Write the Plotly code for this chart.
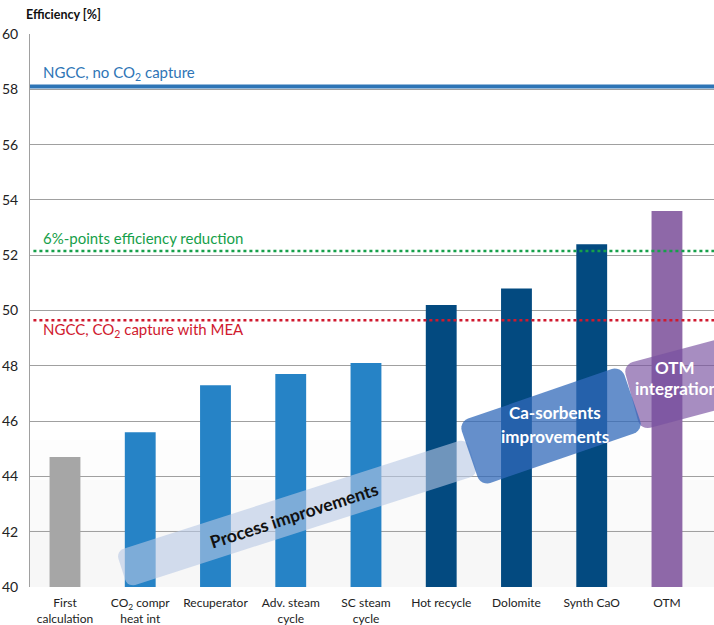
import math
import plotly.graph_objects as go

# ---------------- data ----------------
categories = ["First<br>calculation", "CO<sub>2</sub> compr<br>heat int", "Recuperator",
              "Adv. steam<br>cycle", "SC steam<br>cycle", "Hot recycle", "Dolomite",
              "Synth CaO", "OTM"]
efficiency = [44.7, 45.6, 47.3, 47.7, 48.1, 50.2, 50.8, 52.4, 53.6]
bar_colors = ["#A6A6A6", "#2683C6", "#2683C6", "#2683C6", "#2683C6",
              "#034A80", "#034A80", "#034A80", "#8E68A8"]
ref_values = [58.1, 52.15, 49.65]
ref_labels = ["NGCC, no CO<sub>2</sub> capture", "6%-points efficiency reduction",
              "NGCC, CO<sub>2</sub> capture with MEA"]
y_ticks = [40, 42, 44, 46, 48, 50, 52, 54, 56, 58, 60]

FONT = "Lato"
W, H = 714, 625
ML, MR, MT, MB = 30, 0, 34, 38
PW, PH = W - ML - MR, H - MT - MB

fig = go.Figure()
fig.add_trace(go.Bar(x=categories, y=efficiency, marker_color=bar_colors,
                     width=0.41, marker_line_width=0))

def px2paper(px, py):
    return (px - ML) / PW, (H - MB - py) / PH

def rrect_path(cx, cy, w, h, ang, r, n=6):
    th = math.radians(ang)
    c, s = math.cos(th), math.sin(th)
    pts = []
    corners = [(w/2 - r, h/2 - r, 0), (-w/2 + r, h/2 - r, 90),
               (-w/2 + r, -h/2 + r, 180), (w/2 - r, -h/2 + r, 270)]
    for (ox, oy, a0) in corners:
        for k in range(n + 1):
            a = math.radians(a0 + 90 * k / n)
            pts.append((ox + r * math.cos(a), oy + r * math.sin(a)))
    out = []
    for (x, y) in pts:
        X = x * c - y * s
        Y = x * s + y * c
        out.append(px2paper(cx + X, cy - Y))
    d = "M " + " L ".join(f"{a:.5f},{b:.5f}" for a, b in out) + " Z"
    return d

shapes = []
# subtle bottom background shading
for y0, y1, a in [(587, 530, 0.03), (530, 480, 0.018), (480, 440, 0.008)]:
    x0p, y0p = px2paper(30, y0)
    x1p, y1p = px2paper(714, y1)
    shapes.append(dict(type="rect", xref="paper", yref="paper", layer="below",
                       x0=x0p, x1=x1p, y0=y0p, y1=y1p,
                       fillcolor=f"rgba(0,0,0,{a})", line=dict(width=0)))
# reference lines
shapes.append(dict(type="line", xref="paper", yref="y", x0=0, x1=1, y0=ref_values[0], y1=ref_values[0],
                   line=dict(color="#2E75B6", width=4)))
shapes.append(dict(type="line", xref="paper", yref="y", x0=0.005, x1=1, y0=ref_values[1], y1=ref_values[1],
                   line=dict(color="#16A04A", width=2.5, dash="dot")))
shapes.append(dict(type="line", xref="paper", yref="y", x0=0.005, x1=1, y0=ref_values[2], y1=ref_values[2],
                   line=dict(color="#D0192E", width=2.5, dash="dot")))
# highlight boxes
shapes.append(dict(type="path", xref="paper", yref="paper", layer="above",
                   path=rrect_path(297, 513, 368, 38, 17.8, 8),
                   fillcolor="rgba(184,200,228,0.6)", line=dict(width=0)))
shapes.append(dict(type="path", xref="paper", yref="paper", layer="above",
                   path=rrect_path(697, 380, 135, 68, 15, 10),
                   fillcolor="rgba(120,80,160,0.65)", line=dict(width=0)))
shapes.append(dict(type="path", xref="paper", yref="paper", layer="above",
                   path=rrect_path(551, 426, 172, 68, 19, 10),
                   fillcolor="rgba(50,105,185,0.75)", line=dict(width=0)))

annotations = []
ref_colors = ["#2E75B6", "#16A04A", "#D0192E"]
ref_label_y = [73, 238, 330]
for lab, col, py in zip(ref_labels, ref_colors, ref_label_y):
    xp, yp = px2paper(41, py)
    annotations.append(dict(text=lab, x=xp, y=yp, xref="paper", yref="paper", xanchor="left",
                            yanchor="middle", showarrow=False, font=dict(family=FONT, size=15, color=col)))

def ann(text, px, py, size, color, angle=0):
    xp, yp = px2paper(px, py)
    annotations.append(dict(text=text, x=xp, y=yp, xref="paper", yref="paper", xanchor="center",
                            yanchor="middle", showarrow=False, textangle=angle,
                            font=dict(family=FONT, size=size, color=color)))

ann("<b>Process improvements</b>", 294, 515, 17.5, "#111111", -18)
ann("<b>Ca-sorbents</b>", 555, 412, 17, "white")
ann("<b>improvements</b>", 555, 436, 17, "white")
ann("<b>OTM</b>", 675, 367, 17, "white")
ann("<b>integration</b>", 676, 388, 17, "white")

tx, ty = px2paper(24, 14)
annotations.append(dict(text="<b>Efficiency [%]</b>", x=tx, y=ty, xref="paper", yref="paper",
                        showarrow=False, xanchor="left", yanchor="middle",
                        font=dict(family=FONT, size=12.5, color="#111111")))

fig.update_layout(
    width=W, height=H,
    margin=dict(l=ML, r=MR, t=MT, b=MB),
    paper_bgcolor="white", plot_bgcolor="white",
    showlegend=False,
    font=dict(family=FONT, size=12, color="#222222"),
    shapes=shapes, annotations=annotations,
)
fig.update_xaxes(range=[-0.465, 8.625], showgrid=False, showline=False, ticks="", automargin=False,
                 ticklabelstandoff=7,
                 tickfont=dict(family=FONT, size=12, color="#222222"), fixedrange=True)
fig.update_yaxes(range=[40, 60], tickvals=y_ticks, showgrid=True, gridcolor="#A0A0A0", gridwidth=1,
                 showline=True, linecolor="#A0A0A0", linewidth=1, ticks="", ticklabelstandoff=8,
                 automargin=False, zeroline=False, fixedrange=True,
                 tickfont=dict(family=FONT, size=14, color="#222222"))

fig.write_html("out.html", config={"displayModeBar": False},
               post_script="document.body.style.margin='0';")
